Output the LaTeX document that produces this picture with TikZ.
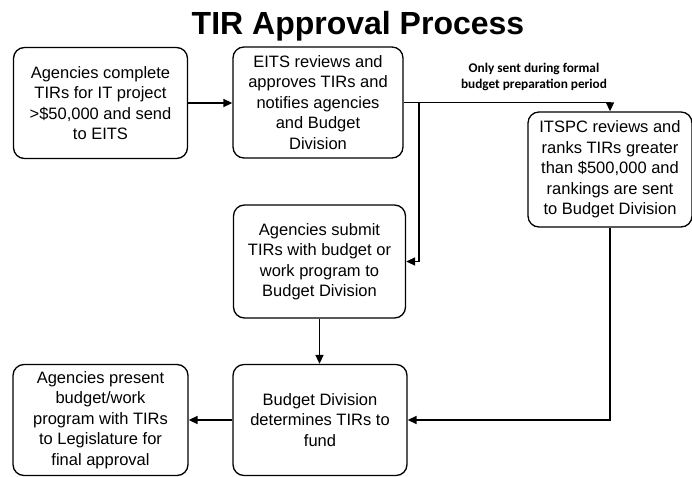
\documentclass[tikz,border=0pt]{standalone}
\usepackage{fontspec}
\setmainfont{Liberation Sans}
\newfontfamily\notefont{Carlito}
\usetikzlibrary{arrows.meta}
\tikzset{
	procbox/.style={
			draw, rounded corners=11pt, line width=1.3pt, align=center,
			minimum width=174pt, minimum height=111pt, inner sep=3pt,
			font=\fontsize{16.5}{20.5}\selectfont
		},
	flow/.style={line width=1.6pt, -{Triangle[length=9pt,width=8pt]}}
}

\begin{document}
\begin{tikzpicture}[x=1pt,y=-1pt]
	\useasboundingbox (0,0) rectangle (692,476);
	\node[font=\bfseries\fontsize{32}{36}\selectfont, anchor=base] (title) at (358,35) {TIR Approval Process};

	\node[procbox] (complete) at (100.5,103) {Agencies complete\\TIRs for IT project\\>\$50,000 and send\\to EITS};
	\node[procbox, minimum width=170pt] (eits) at (318,102.5) {EITS reviews and\\approves TIRs and\\notifies agencies\\and Budget\\Division};
	\node[procbox, minimum width=164pt, minimum height=115pt] (itspc) at (610,169.5) {ITSPC reviews and\\ranks TIRs greater\\than \$500,000 and\\rankings are sent\\to Budget Division};
	\node[procbox, minimum width=172pt, minimum height=113pt] (submit) at (319.5,261.5) {Agencies submit\\TIRs with budget or\\work program to\\Budget Division};
	\node[procbox] (determine) at (320,420) {Budget Division\\determines TIRs to\\fund};
	\node[procbox, minimum width=175pt] (present) at (100.5,420) {Agencies present\\budget/work\\program with TIRs\\to Legislature for\\final approval};

	\node[font=\notefont\bfseries\fontsize{13.3}{15.5}\selectfont, align=center] (note) at (534,77) {Only sent during formal\\budget preparation period};
	\coordinate (split) at (419,102.5);

	\draw[flow] (complete.east) -- (complete.east -| eits.west);
	\draw[flow] (eits.east) -| (itspc.north);
	\draw[flow] (split) |- (submit.east);
	\draw[flow] (submit.south) -- (submit.south |- determine.north);
	\draw[flow] (itspc.south) |- (determine.east);
	\draw[flow] (determine.west) -- (present.east);
\end{tikzpicture}
\end{document}
